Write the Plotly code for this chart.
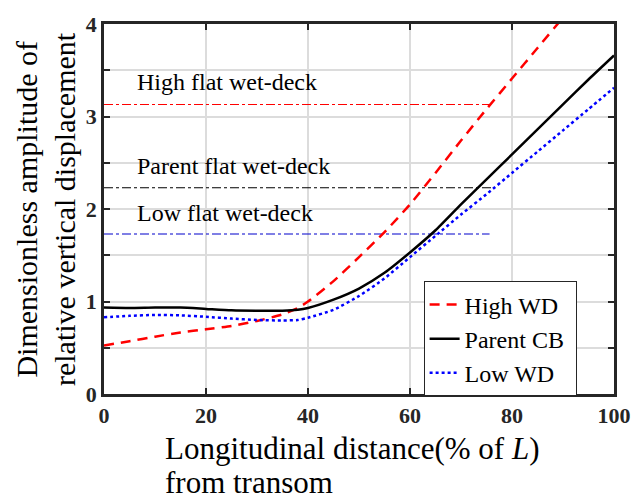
import plotly.graph_objects as go

x_pts = [0, 5, 10, 15, 20, 25, 30, 35, 38, 40, 45, 50, 55, 60, 65, 70, 75, 80, 85, 90, 95, 100]
parent_cb = [0.935, 0.93, 0.935, 0.935, 0.92, 0.905, 0.90, 0.90, 0.91, 0.93, 1.02, 1.14, 1.31, 1.53, 1.77, 2.05, 2.32, 2.59, 2.86, 3.13, 3.40, 3.66]
low_wd = [0.83, 0.845, 0.855, 0.85, 0.835, 0.815, 0.80, 0.795, 0.80, 0.825, 0.91, 1.06, 1.25, 1.48, 1.71, 1.94, 2.16, 2.39, 2.62, 2.85, 3.08, 3.31]
x_high = [0, 5, 10, 15, 20, 25, 30, 35, 38, 40, 45, 50, 55, 60, 65, 70, 75, 80, 85, 90]
high_wd = [0.525, 0.57, 0.62, 0.665, 0.70, 0.735, 0.79, 0.86, 0.93, 1.0, 1.22, 1.48, 1.75, 2.05, 2.39, 2.74, 3.08, 3.41, 3.74, 4.07]

flat_levels = [3.13, 2.23, 1.73]
flat_end = [75.6, 76.0, 75.6]
flat_colors = ["#ff0000", "#000000", "#0000cc"]
flat_labels = ["High flat wet-deck", "Parent flat wet-deck", "Low flat wet-deck"]
flat_label_y = [3.37, 2.47, 1.96]

serif = "Liberation Serif"
fig = go.Figure()

for lvl, xe, c in zip(flat_levels, flat_end, flat_colors):
    fig.add_trace(go.Scatter(x=[0, xe], y=[lvl, lvl], mode="lines",
                             line=dict(color=c, width=1.2, dash="dashdot"),
                             showlegend=False, hoverinfo="skip"))

fig.add_trace(go.Scatter(x=x_high, y=high_wd, mode="lines", name="High WD\u00a0",
                         line=dict(color="#ff0000", width=2.5, dash="10px,7px", shape="spline", smoothing=0.6)))
fig.add_trace(go.Scatter(x=x_pts, y=parent_cb, mode="lines", name="Parent CB\u00a0",
                         line=dict(color="black", width=2.5, shape="spline", smoothing=0.6)))
fig.add_trace(go.Scatter(x=x_pts, y=low_wd, mode="lines", name="Low WD\u00a0",
                         line=dict(color="#0000ff", width=2.5, dash="dot", shape="spline", smoothing=0.6)))

for txt, yy in zip(flat_labels, flat_label_y):
    fig.add_annotation(x=6.0, y=yy, text=txt, showarrow=False, xanchor="left",
                       yanchor="middle", font=dict(family=serif, size=24, color="black"))

# axis titles as annotations
fig.add_annotation(xref="paper", yref="paper", x=(164 - 104) / 517, y=(394 - 450) / 381,
                   text="Longitudinal distance(% of <i>L</i>)", showarrow=False,
                   xanchor="left", yanchor="middle", font=dict(family=serif, size=31, color="black"))
fig.add_annotation(xref="paper", yref="paper", x=(164 - 104) / 517, y=(394 - 485) / 381,
                   text="from transom", showarrow=False,
                   xanchor="left", yanchor="middle", font=dict(family=serif, size=31, color="black"))
fig.add_annotation(xref="paper", yref="paper", x=(25 - 104) / 517, y=(394 - 204) / 381,
                   text="Dimensionless amplitude of", showarrow=False, textangle=-90,
                   xanchor="center", yanchor="middle", font=dict(family=serif, size=30, color="black"))
fig.add_annotation(xref="paper", yref="paper", x=(64 - 104) / 517, y=(394 - 204) / 381,
                   text="relative vertical displacement", showarrow=False, textangle=-90,
                   xanchor="center", yanchor="middle", font=dict(family=serif, size=30, color="black"))

y_tickvals = [0, 0.5, 1, 1.5, 2, 2.5, 3, 3.5, 4]
y_ticktext = ["0", "", "1", "", "2", "", "3", "", "4"]
x_tickvals = [0, 20, 40, 60, 80, 100]

fig.update_xaxes(range=[0, 100], tickvals=x_tickvals, ticks="inside", ticklen=6, tickwidth=1.5,
                 tickcolor="#262626", showline=True, linecolor="#262626", linewidth=2.5, mirror="ticks",
                 showgrid=True, gridcolor="#dcdcdc", gridwidth=1.5, zeroline=False,
                 tickfont=dict(family=serif, size=22, color="#262626", weight="bold"))
fig.update_yaxes(range=[0, 4], tickvals=y_tickvals, ticktext=y_ticktext, ticks="inside", ticklen=6,
                 tickwidth=1.5, tickcolor="#262626", showline=True, linecolor="#262626", linewidth=2.5,
                 mirror="ticks", showgrid=True, gridcolor="#dcdcdc", gridwidth=1.5, zeroline=False,
                 tickfont=dict(family=serif, size=22, color="#262626", weight="bold"))

fig.update_layout(
    width=643, height=504,
    margin=dict(l=104, r=22, t=13, b=110),
    plot_bgcolor="white", paper_bgcolor="white",
    legend=dict(x=(428 - 104) / 517, y=(394 - 278) / 381, xanchor="left", yanchor="top",
                bgcolor="white", bordercolor="#262626", borderwidth=1,
                font=dict(family=serif, size=24, color="black"), tracegroupgap=0),
)

fig.write_html("out.html")
